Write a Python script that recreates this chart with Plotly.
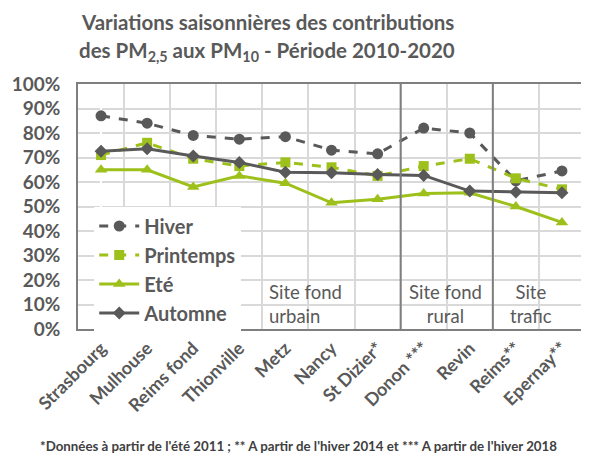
import plotly.graph_objects as go

categories = ["Strasbourg", "Mulhouse", "Reims fond", "Thionville", "Metz", "Nancy",
              "St Dizier*", "Donon ***", "Revin", "Reims**", "Epernay**"]
hiver = [87, 84, 79, 77.5, 78.5, 73, 71.5, 82, 80, 60.5, 64.5]
printemps = [71, 76, 69.5, 66.5, 68, 66, 62.5, 66.5, 69.5, 61.5, 57]
ete = [65, 65, 58, 62.5, 59.5, 51.5, 53, 55.3, 55.6, 50, 43.5]
automne = [72.6, 73.6, 70.6, 68, 64, 63.8, 63.1, 62.7, 56.3, 55.9, 55.6]
y_ticks = [0, 10, 20, 30, 40, 50, 60, 70, 80, 90, 100]

DARK = "#595959"
GREEN = "#9DC01B"
FONT = "Lato"

x = list(range(len(categories)))

fig = go.Figure()
fig.add_trace(go.Scatter(x=x, y=hiver, name="Hiver", mode="lines+markers",
                         line=dict(color=DARK, width=3, dash="dash"),
                         marker=dict(symbol="circle", size=11, color=DARK)))
fig.add_trace(go.Scatter(x=x, y=printemps, name="Printemps", mode="lines+markers",
                         line=dict(color=GREEN, width=3, dash="dash"),
                         marker=dict(symbol="square", size=10, color=GREEN)))
fig.add_trace(go.Scatter(x=x, y=ete, name="Eté", mode="lines+markers",
                         line=dict(color=GREEN, width=3),
                         marker=dict(symbol="triangle-up", size=11, color=GREEN)))
fig.add_trace(go.Scatter(x=x, y=automne, name="Automne", mode="lines+markers",
                         line=dict(color=DARK, width=3),
                         marker=dict(symbol="diamond", size=10, color=DARK)))

# section dividers
for xv in [6.5, 8.5]:
    fig.add_shape(type="line", xref="x", yref="paper", x0=xv, x1=xv, y0=0, y1=1,
                  line=dict(color="#7F7F7F", width=2))

ann_font = dict(family=FONT, size=18.5, color=DARK)
fig.add_annotation(x=3.6, y=10.4, xref="x", yref="y", text="Site fond<br>urbain",
                   showarrow=False, xanchor="left", align="left", font=ann_font)
fig.add_annotation(x=7.47, y=10.4, xref="x", yref="y", text="Site fond<br>rural",
                   showarrow=False, xanchor="center", align="center", font=ann_font)
fig.add_annotation(x=9.33, y=10.4, xref="x", yref="y", text="Site<br>trafic",
                   showarrow=False, xanchor="center", align="center", font=ann_font)

title_font = dict(family=FONT, size=20.5, color=DARK)
fig.add_annotation(x=0.373, y=1.253, xref="paper", yref="paper", yanchor="middle",
                   xanchor="center", showarrow=False,
                   text="<b>Variations saisonnières des contributions</b>", font=title_font)
fig.add_annotation(x=0.373, y=1.131, xref="paper", yref="paper", yanchor="middle",
                   xanchor="center", showarrow=False,
                   text="<b>des PM<sub>2,5</sub> aux PM<sub>10</sub> - Période 2010-2020</b>",
                   font=title_font)

fig.add_annotation(x=0.434, y=-0.478, xref="paper", yref="paper", yanchor="middle",
                   xanchor="center", showarrow=False,
                   text="<b>*Données à partir de l'été 2011 ; ** A partir de l'hiver 2014 et *** A partir de l'hiver 2018</b>",
                   font=dict(family=FONT, size=13.3, color="#404040"))

fig.update_layout(
    width=581, height=449,
    margin=dict(l=70, r=2, t=76, b=128),
    paper_bgcolor="white", plot_bgcolor="white",
    font=dict(family=FONT, color=DARK),
    legend=dict(x=0.032, y=0.5, xanchor="left", yanchor="top",
                bgcolor="rgba(255,255,255,1)",
                font=dict(family=FONT, size=20, color=DARK, weight="bold"),
                tracegroupgap=0, itemwidth=40),
    showlegend=True,
)
fig.update_xaxes(range=[-0.5, 10.5], tickmode="array", tickvals=x,
                 ticktext=["<b>%s</b>" % c for c in categories], tickangle=-45,
                 tickfont=dict(family=FONT, size=18, color=DARK),
                 showgrid=False, showline=True, linecolor="#7F7F7F", linewidth=1.5,
                 mirror=True, ticks="",
                 minor=dict(tickmode="array", tickvals=[i - 0.5 for i in range(len(categories) + 1)],
                            showgrid=True, gridcolor="#D9D9D9", gridwidth=1.5, ticks=""))
fig.update_yaxes(range=[0, 100], tickmode="array", tickvals=y_ticks,
                 ticktext=["<b>%d%%</b>" % v for v in y_ticks],
                 tickfont=dict(family=FONT, size=19, color=DARK),
                 ticklabelstandoff=12,
                 showgrid=True, gridcolor="#D9D9D9", gridwidth=1.5,
                 showline=True, linecolor="#7F7F7F", linewidth=1.5, mirror=True,
                 zeroline=False, ticks="")

fig.write_html("out.html")
